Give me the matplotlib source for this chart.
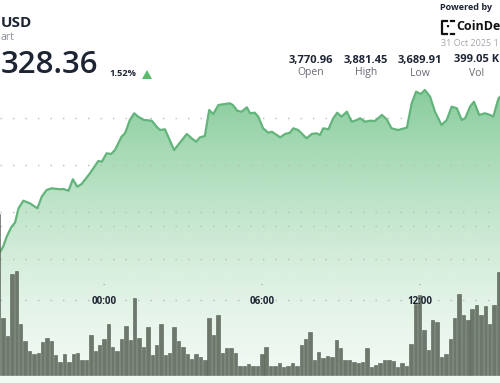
import matplotlib
matplotlib.use('Agg')
import matplotlib.pyplot as plt
import matplotlib.dates as mdates
from matplotlib.patches import Polygon
from matplotlib.lines import Line2D
from matplotlib.colors import to_rgb
import numpy as np
import pandas as pd

# 10 minute volume bars (thousands), first bar 30 Oct 20:00
vol_start = '2025-10-30 20:00'
volumes = [21.5, 7.7, 5.2, 13.5, 13.9, 6.8, 4.6, 3.3, 2.8, 3.0,
           4.4, 5.0, 4.6, 2.7, 1.8, 2.9, 1.8, 2.8, 3.0, 2.1,
           2.1, 5.4, 3.2, 4.1, 4.9, 6.9, 3.8, 3.2, 4.9, 6.6,
           4.7, 10.3, 5.0, 3.8, 6.5, 2.7, 4.0, 6.9, 2.7, 3.0,
           6.5, 4.6, 3.8, 2.8, 2.2, 2.9, 2.4, 2.1, 7.7, 5.4,
           8.1, 3.0, 3.6, 3.6, 3.0, 1.3, 1.3, 1.5, 1.3, 1.2,
           2.9, 3.8, 1.2, 1.2, 1.7, 1.1, 1.2, 1.6, 1.3, 4.0,
           4.8, 5.8, 2.0, 3.1, 2.3, 2.6, 2.5, 4.7, 3.7, 2.1,
           2.1, 1.8, 1.6, 1.8, 3.6, 1.1, 1.4, 1.6, 2.1, 2.1,
           1.9, 1.1, 1.7, 1.2, 4.2, 9.5, 10.7, 6.0, 3.4, 7.4,
           7.1, 2.5, 2.8, 4.8, 7.6, 10.8, 8.1, 7.4, 8.9, 9.4,
           8.0, 9.2, 6.8, 9.4, 13.8]

# price line: minutes from 31 Oct 00:00 and price (USD)
line_minutes = [-237, -230, -222, -211, -203, -195, -184, -169, -152, -142,
                -131, -119, -100, -93, -81, -71, -61, -51, -32, -13,
                -5, 6, 16, 25, 40, 48, 59, 69, 78, 91,
                109, 120, 128, 139, 160, 173, 189, 200, 210, 219,
                230, 240, 249, 261, 272, 287, 294, 304, 314, 326,
                333, 344, 352, 363, 375, 383, 402, 413, 424, 432,
                443, 462, 474, 485, 493, 500, 512, 523, 532, 542,
                554, 565, 577, 584, 596, 607, 618, 634, 645, 656,
                671, 691, 702, 712, 723, 732, 744, 755, 770, 782,
                793, 805, 816, 824, 835, 844, 856, 869, 881, 888,
                900, 904]
line_prices = [3707.4, 3712.8, 3723.4, 3734.0, 3738.3, 3753.6, 3761.7, 3758.9, 3753.6, 3766.0,
               3773.1, 3774.9, 3773.8, 3774.2, 3772.3, 3784.5, 3776.6, 3779.5, 3790.9, 3803.9,
               3803.2, 3812.1, 3811.4, 3815.6, 3829.8, 3833.4, 3847.6, 3854.7, 3851.1, 3847.6,
               3846.8, 3840.4, 3836.9, 3837.7, 3815.6, 3823.4, 3832.7, 3828.1, 3824.5, 3829.1,
               3830.5, 3858.2, 3853.9, 3863.5, 3864.3, 3865.3, 3863.5, 3857.4, 3856.4, 3861.1,
               3854.7, 3855.3, 3851.1, 3838.7, 3834.0, 3835.1, 3829.1, 3832.7, 3834.0, 3838.7,
               3836.9, 3828.1, 3832.7, 3833.4, 3831.6, 3838.7, 3837.7, 3849.4, 3855.3, 3851.1,
               3856.4, 3845.7, 3847.6, 3849.4, 3845.7, 3846.8, 3846.5, 3852.9, 3848.3, 3838.7,
               3836.9, 3839.4, 3865.3, 3877.7, 3875.2, 3879.5, 3872.3, 3856.4, 3842.2, 3847.6,
               3861.7, 3860.0, 3847.6, 3849.4, 3861.7, 3867.0, 3852.9, 3854.7, 3852.9, 3851.1,
               3870.6, 3872.3]

price_grid = [3700, 3750, 3800, 3850]
vol_grid = [10, 20]
tick_labels = ['00:00', '06:00', '12:00']

# header texts, as much as shows in the cropped screenshot
pair = 'USD'
subtitle = 'art'
last_price = '328.36'
change = '1.52%'
stats = ['3,770.96', '3,881.45', '3,689.91', '399.05 K']
stat_names = ['Open', 'High', 'Low', 'Vol']
brand = 'CoinDe'
stamp = '31 Oct 2025 1'

W, H = 500, 383
DARK = '#1d2433'
GREEN = '#4fb56c'
plt.rcParams['font.family'] = ['Open Sans', 'DejaVu Sans']


def fx(px):
    return px / W


def fy(py):
    return 1 - py / H


midnight = pd.Timestamp('2025-10-31 00:00')
bar_times = pd.date_range(vol_start, periods=len(volumes), freq='10min')
line_times = midnight + pd.to_timedelta(line_minutes, unit='min')

fig = plt.figure(figsize=(W / 100, H / 100), dpi=100)
ax = fig.add_axes([0, 0, 1, 1])
ax.set_xlim(midnight - pd.Timedelta(hours=3.954), midnight + pd.Timedelta(hours=15.057))
ax.set_ylim(3567.8, 3975.2)
ax.axis('off')

# gradient area under the price line
xs = mdates.date2num(line_times)
y0 = ax.get_ylim()[0]
verts = [(xs[0], y0)] + list(zip(xs, line_prices)) + [(xs[-1], y0)]
poly = Polygon(verts, closed=True, facecolor='none', edgecolor='none')
ax.add_patch(poly)
s = np.linspace(1, 0, 256)
rgba = np.zeros((256, 1, 4))
rgba[..., :3] = to_rgb(GREEN)
rgba[..., 3] = (0.08 + 0.6 * s ** 1.5)[:, None]
im = ax.imshow(rgba, extent=[xs[0], xs[-1], y0, max(line_prices)],
               aspect='auto', origin='upper', zorder=1, interpolation='bilinear')
im.set_clip_path(poly)
ax.plot(line_times, line_prices, color='#63b47b', lw=1.6, zorder=3)

for p in price_grid:
    ax.axhline(p, color='#b9bdb9', lw=1.0, ls=(0, (1, 8)), zorder=2)

# volume bars on their own scale
axv = ax.twinx()
axv.set_ylim(-1.03, 50.13)
axv.axis('off')
for v in vol_grid:
    axv.axhline(v, color='#b9bdb9', lw=1.0, ls=(0, (1, 8)), zorder=1)
axv.bar(bar_times, volumes, width=7.8 / 1440, color='#6e776c',
        edgecolor='#566054', linewidth=0.4, zorder=2)

# time labels
for lab in tick_labels:
    t = pd.Timestamp('2025-10-31 ' + lab)
    axv.text(t, fy(287), '.', transform=axv.get_xaxis_transform(),
             ha='center', va='bottom', fontsize=6, color='#555555')
    axv.text(t, fy(302), lab, transform=axv.get_xaxis_transform(),
             ha='center', va='center', fontsize=7, fontweight='bold', color=DARK)

# header
fig.text(fx(0.5), fy(23), pair, ha='left', va='center', fontsize=11,
         fontweight='bold', color=DARK)
fig.text(fx(0.5), fy(37), subtitle, ha='left', va='center', fontsize=7.5,
         color='#8a8f98')
fig.text(fx(0.5), fy(65), last_price, ha='left', va='center', fontsize=22.5,
         fontweight='semibold', color=DARK)
fig.text(fx(109), fy(74), change, ha='left', va='center', fontsize=6.7,
         fontweight='bold', color=DARK)
fig.patches.append(Polygon([(fx(142), fy(79)), (fx(152), fy(79)), (fx(147), fy(70))],
                           closed=True, transform=fig.transFigure,
                           facecolor='#5cbb6a', edgecolor='none'))

stat_x = [311, 366, 420, 477]
for x, val, name in zip(stat_x, stats, stat_names):
    fig.text(fx(x), fy(60), val, ha='center', va='center', fontsize=8,
             fontweight='bold', color=DARK)
    fig.text(fx(x), fy(73), name, ha='center', va='center', fontsize=7.5,
             color='#666b73')

# powered by block
fig.text(fx(440), fy(8), 'Powered by', ha='left', va='center', fontsize=6.5,
         fontweight='bold', color=DARK)
fig.text(fx(456), fy(27), brand, ha='left', va='center', fontsize=9,
         fontweight='bold', color='#111111')
fig.lines.append(Line2D([fx(447), fx(441.5), fx(441.5), fx(447)],
                        [fy(20.5), fy(20.5), fy(33.5), fy(33.5)],
                        transform=fig.transFigure, color='#111111', lw=1.6))
fig.lines.append(Line2D([fx(451), fx(454)], [fy(20.5), fy(20.5)],
                        transform=fig.transFigure, color='#111111', lw=1.6))
fig.lines.append(Line2D([fx(451), fx(454)], [fy(33.5), fy(33.5)],
                        transform=fig.transFigure, color='#111111', lw=1.6))
fig.lines.append(Line2D([fx(448), fx(448)], [fy(25), fy(29)],
                        transform=fig.transFigure, color='#111111', lw=1.6, ls=(0, (1, 1.5))))
fig.text(fx(441), fy(44), stamp, ha='left', va='center', fontsize=6.5,
         color='#a3a7ad')

fig.savefig('out.png', dpi=100)
